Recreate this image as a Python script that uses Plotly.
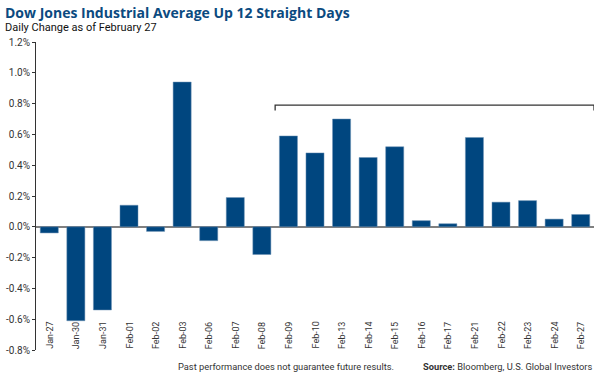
import plotly.graph_objects as go

categories = ["Jan-27", "Jan-30", "Jan-31", "Feb-01", "Feb-02", "Feb-03", "Feb-06",
              "Feb-07", "Feb-08", "Feb-09", "Feb-10", "Feb-13", "Feb-14", "Feb-15",
              "Feb-16", "Feb-17", "Feb-21", "Feb-22", "Feb-23", "Feb-24", "Feb-27"]
daily_change = [-0.04, -0.61, -0.54, 0.14, -0.03, 0.94, -0.09,
                0.19, -0.18, 0.59, 0.48, 0.70, 0.45, 0.52,
                0.04, 0.02, 0.58, 0.16, 0.17, 0.05, 0.08]
y_ticks = [-0.8, -0.6, -0.4, -0.2, 0.0, 0.2, 0.4, 0.6, 0.8, 1.0, 1.2]
y_tick_labels = [f"{v:.1f}%" for v in y_ticks]
streak_start = "Feb-09"
bracket_level = 0.79
bracket_tick = 0.755

BLUE = "#00467f"
NARROW = "Roboto, sans-serif"

fig = go.Figure()
fig.add_trace(go.Bar(
    x=categories, y=daily_change,
    marker=dict(color=BLUE, line=dict(color="#6f93b5", width=0.5)),
    hoverinfo="x+y",
))

x0 = categories.index(streak_start) - 0.5
x1 = len(categories) - 0.5
fig.add_shape(type="path",
              path=f"M {x0} {bracket_tick} L {x0} {bracket_level} L {x1} {bracket_level} L {x1} {bracket_tick}",
              xref="x", yref="y", line=dict(color="#333333", width=1.3))

# category labels drawn inside the plot, along its bottom edge
for c in categories:
    fig.add_annotation(x=c, xref="x", y=0, yref="paper", yshift=-1,
                       text=c, textangle=-90, showarrow=False,
                       xanchor="center", yanchor="bottom",
                       font=dict(family=NARROW, size=9, color="#333333"))

fig.update_layout(
    width=600, height=375,
    margin=dict(l=34, r=6, t=42, b=25),
    paper_bgcolor="white", plot_bgcolor="white",
    bargap=0.32,
    showlegend=False,
    xaxis=dict(
        type="category", range=[-0.5, len(categories) - 0.5],
        showline=False, showgrid=False, ticks="", showticklabels=False,
    ),
    yaxis=dict(
        range=[-0.8, 1.2], tickvals=y_ticks, ticktext=y_tick_labels,
        showline=True, linecolor="#333333", linewidth=1,
        ticks="outside", ticklen=3, tickcolor="#333333",
        showgrid=False,
        zeroline=True, zerolinecolor="#808080", zerolinewidth=2,
        tickfont=dict(family=NARROW, size=10, color="#333333"),
    ),
)

fig.add_annotation(text="<b>Dow Jones Industrial Average Up 12 Straight Days</b>",
                   xref="paper", yref="paper", x=-33 / 560, y=1 + 30 / 308,
                   xanchor="left", yanchor="middle", showarrow=False,
                   font=dict(family="Open Sans, sans-serif", size=14, weight=800, color="#0b4a80"))
fig.add_annotation(text="Daily Change as of February 27",
                   xref="paper", yref="paper", x=-33 / 560, y=1 + 15 / 308,
                   xanchor="left", yanchor="middle", showarrow=False,
                   font=dict(family="Roboto, sans-serif", size=11, color="#111111"))
fig.add_annotation(text="Past performance does not guarantee future results.",
                   xref="paper", yref="paper", x=(175 - 34) / 560, y=-16 / 308,
                   xanchor="left", yanchor="middle", showarrow=False,
                   font=dict(family=NARROW, size=9.3, color="#333333"))
fig.add_annotation(text="<b>Source:</b> Bloomberg, U.S. Global Investors",
                   xref="paper", yref="paper", x=1.0, y=-16 / 308,
                   xanchor="right", yanchor="middle", showarrow=False,
                   font=dict(family=NARROW, size=9.3, color="#333333"))

fig.write_html("out.html", config={"displayModeBar": False},
               post_script="document.body.style.margin='0';")
